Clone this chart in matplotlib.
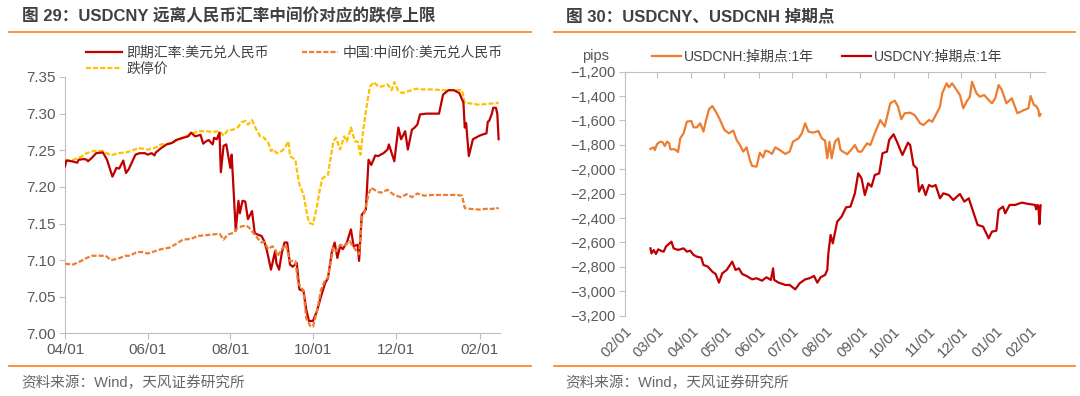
import matplotlib
matplotlib.use("Agg")
import matplotlib.pyplot as plt
import matplotlib.dates as mdates
import matplotlib.ticker as mticker
import pandas as pd

plt.rcParams['font.family'] = ['Liberation Sans', 'Noto Sans CJK SC']
plt.rcParams['axes.unicode_minus'] = True

RED = '#C00000'
ORANGE = '#ED7D31'
YELLOW = '#FFC000'
GRID = '#BFBFBF'
TXT = '#595959'
LINE = '#F58220'

# ---- left chart: days counted from 2024-04-01 ----
left_start = '2024-04-01'
spot_days = [0, 1, 5, 9, 10, 14, 16, 17, 20, 23, 28, 31, 35, 38, 40, 43, 45, 47, 52, 55,
             59, 61, 64, 66, 67, 71, 75, 79, 82, 87, 91, 93, 96, 100, 102, 104, 106, 109, 110, 112,
             114, 115, 117, 119, 122, 123, 126, 128, 129, 131, 133, 135, 138, 140, 142, 145, 147, 149, 152, 155,
             156, 158, 160, 162, 164, 166, 168, 171, 173, 176, 178, 180, 183, 186, 189, 192, 194, 197, 199, 201,
             203, 205, 208, 211, 213, 216, 217, 219, 222, 224, 226, 229, 231, 235, 238, 239, 243, 246, 248, 251,
             253, 256, 258, 260, 262, 267, 276, 279, 283, 287, 291, 294, 295, 296, 298, 301, 306, 309, 311, 312,
             313, 315, 316, 318, 319, 320]
spot_vals = [7.228, 7.236, 7.235, 7.233, 7.237, 7.238, 7.237, 7.235, 7.240, 7.246, 7.247, 7.237, 7.214, 7.226, 7.225, 7.236, 7.219, 7.224, 7.244, 7.246,
             7.246, 7.244, 7.246, 7.243, 7.247, 7.253, 7.258, 7.260, 7.264, 7.267, 7.269, 7.274, 7.269, 7.271, 7.259, 7.262, 7.264, 7.258, 7.267, 7.265,
             7.274, 7.220, 7.256, 7.258, 7.226, 7.244, 7.140, 7.181, 7.164, 7.181, 7.180, 7.156, 7.167, 7.137, 7.135, 7.133, 7.126, 7.113, 7.087, 7.112,
             7.096, 7.087, 7.110, 7.124, 7.124, 7.094, 7.091, 7.096, 7.060, 7.058, 7.033, 7.017, 7.017, 7.031, 7.051, 7.069, 7.075, 7.112, 7.124, 7.103,
             7.119, 7.115, 7.124, 7.142, 7.119, 7.121, 7.099, 7.162, 7.169, 7.237, 7.230, 7.243, 7.242, 7.246, 7.251, 7.258, 7.235, 7.281, 7.265, 7.276,
             7.251, 7.278, 7.281, 7.285, 7.299, 7.300, 7.300, 7.326, 7.332, 7.332, 7.328, 7.315, 7.281, 7.287, 7.242, 7.265, 7.270, 7.272, 7.273, 7.289,
             7.290, 7.300, 7.308, 7.308, 7.300, 7.265]

mid_days = [0, 6, 12, 16, 20, 26, 30, 34, 39, 45, 48, 53, 57, 61, 66, 71, 77, 81, 87, 93,
            98, 104, 109, 114, 117, 120, 124, 127, 130, 134, 136, 139, 143, 145, 147, 150, 153, 155, 157, 160,
            163, 166, 170, 172, 176, 178, 181, 183, 186, 189, 192, 194, 198, 200, 203, 206, 210, 214, 217, 219,
            221, 224, 226, 230, 233, 238, 242, 246, 248, 252, 256, 260, 265, 271, 279, 289, 293, 295, 299, 306,
            310, 316, 318, 320]
mid_vals = [7.095, 7.094, 7.099, 7.103, 7.106, 7.106, 7.106, 7.100, 7.102, 7.106, 7.106, 7.111, 7.111, 7.109, 7.112, 7.115, 7.117, 7.121, 7.128, 7.129,
            7.133, 7.134, 7.135, 7.136, 7.128, 7.135, 7.137, 7.143, 7.146, 7.147, 7.144, 7.137, 7.128, 7.124, 7.125, 7.115, 7.119, 7.115, 7.106, 7.115,
            7.121, 7.099, 7.099, 7.069, 7.058, 7.021, 7.010, 7.009, 7.031, 7.060, 7.073, 7.076, 7.117, 7.112, 7.121, 7.119, 7.126, 7.115, 7.108, 7.158,
            7.165, 7.190, 7.199, 7.194, 7.192, 7.196, 7.190, 7.187, 7.186, 7.190, 7.186, 7.191, 7.188, 7.189, 7.189, 7.189, 7.188, 7.171, 7.170, 7.169,
            7.170, 7.170, 7.172, 7.170]

limit_days = [0, 6, 12, 16, 21, 28, 34, 39, 45, 49, 54, 58, 61, 66, 71, 77, 81, 87, 93, 100,
              104, 109, 114, 117, 120, 124, 128, 130, 133, 135, 138, 141, 144, 147, 150, 152, 154, 156, 160, 162,
              165, 166, 170, 171, 173, 176, 178, 180, 183, 186, 188, 190, 194, 198, 200, 203, 206, 208, 211, 214,
              216, 218, 220, 222, 225, 228, 231, 234, 238, 241, 243, 246, 249, 254, 259, 264, 271, 279, 289, 293,
              295, 299, 306, 310, 316, 320]
limit_vals = [7.236, 7.237, 7.241, 7.246, 7.249, 7.249, 7.243, 7.246, 7.247, 7.249, 7.253, 7.252, 7.251, 7.253, 7.258, 7.259, 7.262, 7.267, 7.273, 7.276,
              7.276, 7.275, 7.276, 7.270, 7.277, 7.278, 7.282, 7.288, 7.290, 7.285, 7.291, 7.279, 7.269, 7.267, 7.260, 7.249, 7.251, 7.246, 7.249, 7.253,
              7.262, 7.242, 7.237, 7.224, 7.203, 7.190, 7.169, 7.151, 7.149, 7.174, 7.196, 7.212, 7.216, 7.262, 7.267, 7.251, 7.269, 7.262, 7.281, 7.262,
              7.262, 7.244, 7.276, 7.303, 7.337, 7.343, 7.337, 7.337, 7.340, 7.332, 7.343, 7.331, 7.328, 7.331, 7.334, 7.333, 7.333, 7.332, 7.332, 7.332,
              7.315, 7.314, 7.312, 7.313, 7.314, 7.315]

# ---- right chart: days counted from 2024-02-01, pips ----
right_start = '2024-02-01'
cnh_days = [23, 26, 27, 29, 32, 34, 36, 38, 40, 41, 45, 48, 50, 53, 56, 60, 62, 65, 68, 71,
            73, 76, 79, 83, 86, 90, 94, 98, 101, 104, 107, 110, 113, 115, 119, 122, 125, 127, 130, 133,
            136, 140, 145, 149, 152, 157, 160, 163, 166, 170, 175, 178, 181, 183, 185, 187, 190, 193, 195, 201,
            205, 208, 211, 214, 219, 222, 226, 231, 235, 240, 244, 247, 250, 253, 258, 262, 267, 270, 275, 278,
            282, 285, 287, 291, 293, 296, 300, 303, 306, 309, 312, 314, 318, 321, 325, 329, 332, 335, 338, 341,
            345, 350, 355, 361, 365, 367, 370, 372, 374, 375, 376]
cnh_vals = [-1833, -1820, -1842, -1793, -1773, -1778, -1809, -1773, -1787, -1836, -1836, -1858, -1746, -1705, -1609, -1604, -1656, -1656, -1623, -1691,
            -1610, -1508, -1481, -1541, -1596, -1678, -1705, -1683, -1760, -1801, -1855, -1820, -1924, -1973, -1978, -1864, -1902, -1847, -1855, -1874,
            -1820, -1842, -1874, -1855, -1773, -1746, -1705, -1623, -1691, -1700, -1686, -1746, -1765, -1910, -1775, -1910, -1773, -1746, -1842, -1877,
            -1836, -1801, -1855, -1855, -1787, -1801, -1705, -1596, -1650, -1459, -1437, -1486, -1590, -1541, -1536, -1555, -1623, -1637, -1596, -1610,
            -1541, -1486, -1377, -1295, -1328, -1295, -1350, -1391, -1500, -1446, -1405, -1282, -1377, -1405, -1391, -1432, -1459, -1418, -1309, -1350,
            -1459, -1418, -1541, -1514, -1500, -1399, -1473, -1481, -1514, -1565, -1548]

cny_days = [23, 24, 26, 28, 30, 33, 35, 37, 41, 42, 44, 48, 53, 56, 59, 62, 65, 69, 71, 75,
            79, 82, 85, 88, 92, 97, 100, 103, 106, 110, 115, 119, 124, 128, 132, 134, 135, 139, 145, 149,
            154, 158, 163, 167, 171, 174, 177, 181, 183, 184, 186, 188, 192, 196, 200, 204, 208, 211, 214, 217,
            220, 223, 226, 230, 233, 237, 239, 243, 246, 251, 256, 258, 261, 264, 266, 269, 272, 275, 278, 281,
            285, 288, 293, 297, 303, 307, 311, 315, 319, 324, 329, 332, 336, 338, 342, 344, 348, 353, 359, 365,
            371, 372, 373, 374, 375, 376]
cny_vals = [-2648, -2689, -2662, -2694, -2656, -2670, -2675, -2634, -2601, -2593, -2648, -2661, -2648, -2675, -2667, -2702, -2716, -2724, -2784, -2798,
            -2839, -2858, -2929, -2853, -2825, -2757, -2825, -2812, -2858, -2874, -2902, -2893, -2913, -2885, -2907, -2812, -2907, -2929, -2948, -2948,
            -2984, -2935, -2902, -2893, -2874, -2929, -2885, -2866, -2825, -2689, -2538, -2607, -2429, -2388, -2312, -2306, -2197, -2033, -2074, -2211,
            -2115, -2142, -2047, -2033, -1869, -1855, -1760, -1713, -1773, -1883, -1782, -1801, -1965, -1992, -2183, -2129, -2211, -2129, -2142, -2129,
            -2238, -2197, -2211, -2252, -2202, -2265, -2238, -2347, -2456, -2470, -2566, -2511, -2503, -2333, -2306, -2361, -2292, -2292, -2273, -2284,
            -2292, -2328, -2292, -2300, -2450, -2295]


def to_dates(start, days):
    return pd.Timestamp(start) + pd.to_timedelta(days, unit='D')


fig = plt.figure(figsize=(10.8, 3.96), dpi=100)
W, H = 1080.0, 396.0


def box(x0, y0, x1, y1):
    return [x0 / W, 1 - y1 / H, (x1 - x0) / W, (y1 - y0) / H]


# titles, rules and sources
fig.text(22 / W, 1 - 16 / H, '图 29：USDCNY 远离人民币汇率中间价对应的跌停上限', fontsize=12,
         fontweight='bold', color='#404040', va='center', ha='left')
fig.text(566 / W, 1 - 16 / H, '图 30：USDCNY、USDCNH 掉期点', fontsize=12,
         fontweight='bold', color='#404040', va='center', ha='left')
for x0, x1 in [(9, 531), (554, 1075)]:
    fig.add_artist(plt.Line2D([x0 / W, x1 / W], [1 - 32 / H, 1 - 32 / H], color=LINE, lw=1.2))
    fig.add_artist(plt.Line2D([x0 / W, x1 / W], [1 - 366 / H, 1 - 366 / H], color=LINE, lw=1.2))
fig.text(21 / W, 1 - 383 / H, '资料来源：Wind，天风证券研究所', fontsize=10.5, color='#666666', va='center')
fig.text(565 / W, 1 - 383 / H, '资料来源：Wind，天风证券研究所', fontsize=10.5, color='#666666', va='center')

# ---- left ----
ax1 = fig.add_axes(box(65, 77, 500, 333.4))
l_spot, = ax1.plot(to_dates(left_start, spot_days), spot_vals, color=RED, lw=1.6, zorder=3)
l_mid, = ax1.plot(to_dates(left_start, mid_days), mid_vals, color=ORANGE, lw=1.6,
                  dashes=(2.3, 0.9), zorder=4)
l_lim, = ax1.plot(to_dates(left_start, limit_days), limit_vals, color=YELLOW, lw=1.6,
                  dashes=(2.3, 0.9), zorder=2)
ax1.set_ylim(7.00, 7.35)
ax1.set_yticks([7.00, 7.05, 7.10, 7.15, 7.20, 7.25, 7.30, 7.35])
ax1.yaxis.set_major_formatter(mticker.FormatStrFormatter('%.2f'))
ax1.set_xlim(pd.Timestamp(left_start), pd.Timestamp(left_start) + pd.Timedelta(days=321))
ax1.xaxis.set_major_locator(mdates.MonthLocator(bymonth=[2, 4, 6, 8, 10, 12]))
ax1.xaxis.set_major_formatter(mdates.DateFormatter('%m/%d'))
for s in ['top', 'right']:
    ax1.spines[s].set_visible(False)
for s in ['left', 'bottom']:
    ax1.spines[s].set_color(GRID)
ax1.tick_params(axis='both', colors=GRID, labelcolor=TXT, labelsize=11, length=4, width=0.8, pad=3)
ax1.legend([l_spot, l_lim, l_mid], ['即期汇率:美元兑人民币', '跌停价', '中国:中间价:美元兑人民币'],
           ncol=2, loc='upper left', bbox_to_anchor=(86 / W, 1 - 46 / H), bbox_transform=fig.transFigure,
           frameon=False, fontsize=10, handlelength=2.6, handletextpad=0.3, columnspacing=2.4,
           labelspacing=0.1, borderpad=0, borderaxespad=0, labelcolor='#404040')

# ---- right ----
ax2 = fig.add_axes(box(625, 71.7, 1045, 315.7))
l_cnh, = ax2.plot(to_dates(right_start, cnh_days), cnh_vals, color=ORANGE, lw=1.6)
l_cny, = ax2.plot(to_dates(right_start, cny_days), cny_vals, color=RED, lw=1.6)
ax2.set_ylim(-3200, -1200)
ax2.set_yticks(range(-3200, -1199, 200))
ax2.yaxis.set_major_formatter(mticker.FuncFormatter(lambda v, p: f'{v:,.0f}'.replace('-', '\u2212')))
ax2.set_xlim(pd.Timestamp(right_start), pd.Timestamp(right_start) + pd.Timedelta(days=380))
ax2.xaxis.set_major_locator(mdates.MonthLocator())
ax2.xaxis.set_major_formatter(mdates.DateFormatter('%m/%d'))
for s in ['bottom', 'right']:
    ax2.spines[s].set_visible(False)
for s in ['left', 'top']:
    ax2.spines[s].set_color(GRID)
ax2.tick_params(axis='y', colors=GRID, labelcolor=TXT, labelsize=10.5, length=4, width=0.8, pad=3)
ax2.tick_params(axis='x', colors=GRID, labelcolor=TXT, labelsize=10.5, length=4, width=0.8,
                top=True, bottom=False, labeltop=False, labelbottom=True, direction='in', pad=6)
for lab in ax2.get_xticklabels():
    lab.set_rotation(45)
    lab.set_ha('right')
    lab.set_rotation_mode('anchor')
ax2.legend([l_cnh, l_cny], ['USDCNH:掉期点:1年', 'USDCNY:掉期点:1年'], ncol=2, loc='upper left',
           bbox_to_anchor=(652 / W, 1 - 50 / H), bbox_transform=fig.transFigure, frameon=False,
           fontsize=10, handlelength=2.1, handletextpad=0.2, columnspacing=2.0, borderpad=0,
           borderaxespad=0, labelcolor='#404040')
fig.text(609 / W, 1 - 56 / H, 'pips', fontsize=10.5, color=TXT, ha='right', va='center')

fig.savefig('out.png', dpi=100)
